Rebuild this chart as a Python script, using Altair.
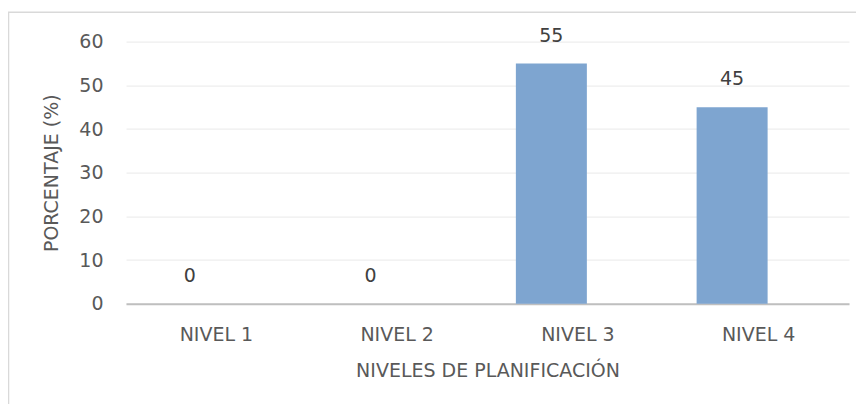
import altair as alt
import pandas as pd

categories = ["NIVEL 1", "NIVEL 2", "NIVEL 3", "NIVEL 4"]
values = [0, 0, 55, 45]
y_ticks = [0, 10, 20, 30, 40, 50, 60]

df = pd.DataFrame({"nivel": categories, "pct": values})

FONT = "DejaVu Sans"
FS = 19
TXT = "#595959"
W, H = 723, 262

x_enc = alt.X("nivel:N", sort=categories,
              scale=alt.Scale(paddingInner=0, paddingOuter=0),
              axis=alt.Axis(title="NIVELES DE PLANIFICACIÓN", labelAngle=0,
                            ticks=False, domainColor="#BFBFBF", domainWidth=2,
                            labelPadding=22, titlePadding=17,
                            labelFontSize=FS, titleFontSize=FS,
                            labelColor=TXT, titleColor=TXT,
                            labelFont=FONT, titleFont=FONT,
                            titleFontWeight="normal", grid=False))
y_enc = alt.Y("pct:Q", scale=alt.Scale(domain=[0, 60], nice=False),
              axis=alt.Axis(title="PORCENTAJE (%)", values=y_ticks, ticks=False,
                            domain=False, gridColor="#EEEEEE", gridWidth=1.3,
                            labelPadding=23, titlePadding=17,
                            labelFontSize=FS, titleFontSize=FS,
                            labelColor=TXT, titleColor=TXT,
                            labelFont=FONT, titleFont=FONT,
                            titleFontWeight="normal"))

base = alt.Chart(df)
bars = base.mark_bar(width=71, xOffset=-26.5, color="#7EA5D0").encode(x=x_enc, y=y_enc)
labels = base.mark_text(dx=-26.5, dy=-18, baseline="bottom", font=FONT,
                        fontSize=FS, color="#404040").encode(
    x=alt.X("nivel:N", sort=categories), y="pct:Q", text="pct:Q")

frame = alt.Chart(pd.DataFrame({"k": [0]})).mark_rect(
    fill=None, stroke="#D9D9D9", strokeWidth=1.5).encode(
    x=alt.value(-117.5), x2=alt.value(W + 60),
    y=alt.value(-29.5), y2=alt.value(H + 200))

chart = alt.layer(frame, bars, labels).properties(
    width=W, height=H,
    autosize=alt.AutoSizeParams(type="none"),
    padding={"left": 118, "top": 33.7, "right": 7, "bottom": 100},
).configure_view(stroke=None)

chart.save("out.html", embed_options={"renderer": "svg", "actions": False})
